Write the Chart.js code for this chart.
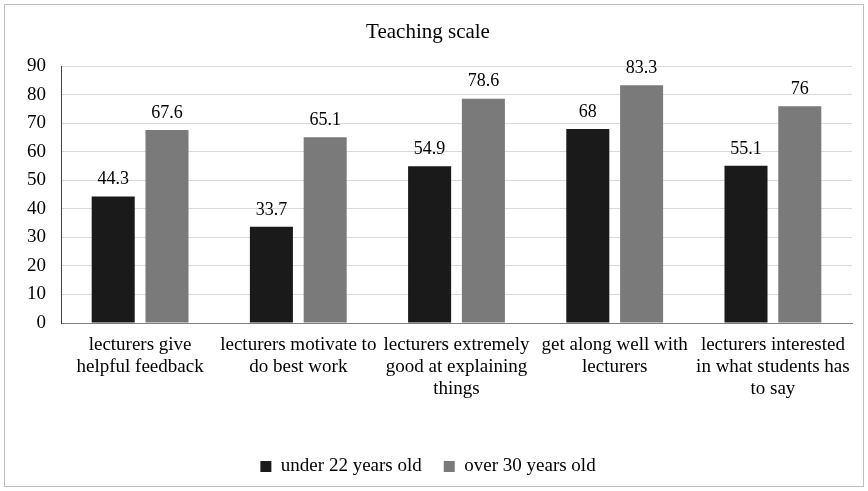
<!DOCTYPE html>
<html>
<head>
<meta charset="utf-8">
<script src="https://cdn.jsdelivr.net/npm/chart.js@4/dist/chart.umd.min.js"></script>
<style>
  html, body { margin: 0; padding: 0; background: #fff; }
  #wrap { width: 868px; height: 491px; position: relative; }
</style>
</head>
<body>
<div id="wrap"><canvas id="teaching"></canvas></div>
<script>
// categories (x axis, wrapped the same way as the picture)
const categories = [
  ["lecturers give", "helpful feedback"],
  ["lecturers motivate to", "do best work"],
  ["lecturers extremely", "good at explaining", "things"],
  ["get along well with", "lecturers"],
  ["lecturers interested", "in what students has", "to say"]
];

// series values
const under22 = [44.3, 33.7, 54.9, 68, 55.1];
const over30 = [67.6, 65.1, 78.6, 83.3, 76];

// y axis ticks
const yMin = 0;
const yMax = 90;
const yStep = 10;

const serif = "'Liberation Serif', 'Times New Roman', serif";

// frame round the whole picture
const framePlugin = {
  id: 'frame',
  beforeDraw(chart) {
    const ctx = chart.ctx;
    ctx.save();
    ctx.fillStyle = '#fff';
    ctx.fillRect(0, 0, chart.width, chart.height);
    ctx.strokeStyle = '#bfbfbf';
    ctx.lineWidth = 1;
    ctx.strokeRect(4.5, 4.5, chart.width - 9, chart.height - 9);
    ctx.restore();
  }
};

// numbers above the bars
const valueLabels = {
  id: 'valueLabels',
  afterDatasetsDraw(chart) {
    const ctx = chart.ctx;
    ctx.save();
    ctx.font = '18px ' + serif;
    ctx.fillStyle = '#000';
    ctx.textAlign = 'center';
    ctx.textBaseline = 'bottom';
    chart.data.datasets.forEach((ds, i) => {
      chart.getDatasetMeta(i).data.forEach((bar, j) => {
        ctx.fillText(String(ds.data[j]), bar.x, bar.y - 8);
      });
    });
    ctx.restore();
  }
};

const data = {
  labels: categories,
  datasets: [
    {
      label: 'under 22 years old',
      data: under22,
      backgroundColor: '#1a1a1a',
      borderColor: '#1a1a1a',
      borderWidth: 0
    },
    {
      label: 'over 30 years old',
      data: over30,
      backgroundColor: '#7a7a7a',
      borderColor: '#7a7a7a',
      borderWidth: 0
    }
  ]
};

const config = {
  type: 'bar',
  data,
  plugins: [framePlugin, valueLabels],
  options: {
    responsive: false,
    animation: false,
    devicePixelRatio: 1,
    categoryPercentage: 0.68,
    barPercentage: 0.8,
    layout: {
      padding: { left: 4, right: 16, top: 4, bottom: 5 }
    },
    plugins: {
      title: {
        display: true,
        text: 'Teaching scale',
        color: '#000',
        font: { family: serif, size: 21, weight: 'normal' },
        padding: { top: 16, bottom: 21 }
      },
      legend: {
        position: 'bottom',
        labels: {
          color: '#000',
          font: { family: serif, size: 19 },
          boxWidth: 11,
          boxHeight: 11,
          padding: 22
        }
      },
      tooltip: { enabled: false }
    },
    scales: {
      x: {
        grid: { display: false, drawTicks: false },
        border: { color: '#808080' },
        ticks: {
          color: '#000',
          autoSkip: false,
          maxRotation: 0,
          padding: 11,
          font: { family: serif, size: 19, lineHeight: 1.15 }
        },
        afterFit(scale) { scale.height = 112; }
      },
      y: {
        min: yMin,
        max: yMax,
        grid: { color: '#d9d9d9', drawTicks: false },
        border: { color: '#404040' },
        ticks: {
          stepSize: yStep,
          color: '#000',
          padding: 15,
          font: { family: serif, size: 19 }
        },
        afterFit(scale) { scale.width = 57; }
      }
    }
  }
};

const canvas = document.getElementById('teaching');
canvas.width = 868;
canvas.height = 491;
const chart = new Chart(canvas, config);
</script>
</body>
</html>
